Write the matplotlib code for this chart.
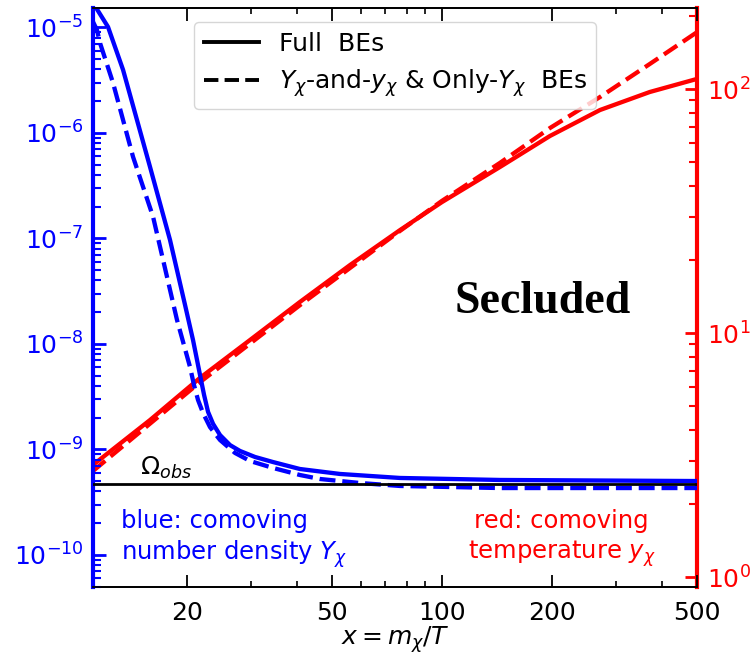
import numpy as np
import matplotlib
matplotlib.use('agg')
from matplotlib import pyplot as plt
from matplotlib.lines import Line2D
from matplotlib.ticker import FixedLocator, NullFormatter, LogLocator

# comoving number density Y_chi (left axis)
x_full_Y = [11.06, 12.16, 13.37, 15.85, 17.98, 19.77, 20.79, 21.73, 22.29, 22.86,
            23.59, 24.65, 26.26, 27.96, 30.74, 34.44, 40.8, 52.54, 76.7, 144.2, 500]
Y_full = [1.71e-5, 1.01e-5, 3.96e-6, 4.76e-7, 9.68e-8, 2.34e-8, 1.09e-8, 5.08e-9,
          3.29e-9, 2.27e-9, 1.75e-9, 1.37e-9, 1.10e-9, 9.68e-10, 8.49e-10,
          7.6e-10, 6.53e-10, 5.86e-10, 5.37e-10, 5.14e-10, 5.02e-10]

x_approx_Y = [11.06, 11.34, 11.56, 12.55, 14.24, 16.16, 18.79, 20.40, 20.92, 21.46,
              22.14, 23.14, 24.65, 27.10, 29.78, 34.44, 40.8, 46.33, 59.6, 76.7,
              144.2, 500]
Y_approx = [1.13e-5, 9.46e-6, 7.12e-6, 2.98e-6, 5.93e-7, 1.60e-7, 1.69e-8, 6.05e-9,
            4.08e-9, 2.94e-9, 2.22e-9, 1.63e-9, 1.23e-9, 9.27e-10, 7.78e-10,
            6.68e-10, 5.73e-10, 5.25e-10, 4.81e-10, 4.51e-10, 4.31e-10, 4.31e-10]

# comoving temperature y_chi (right axis)
x_full_y = [11.06, 15.85, 21.73, 29.78, 40.8, 56.0, 76.7, 100, 144.2, 197.7, 271, 371, 500]
y_full = [2.88, 4.40, 6.55, 9.36, 13.4, 19.0, 26.4, 34.4, 47.9, 64.2, 82.0, 97.2, 110]

x_approx_y = [11.06, 21.73, 40.8, 76.7, 100, 144.2, 197.7, 271, 371, 500]
y_approx = [2.72, 6.29, 13.0, 26.2, 34.8, 49.8, 69.2, 92.7, 126.6, 171]

omega_obs = 4.7e-10

x_major = [20, 50, 100, 200, 500]
x_minor = [30, 40, 60, 70, 80, 90, 300, 400]

fig = plt.figure(figsize=(7.56, 6.57), dpi=100)
ax = fig.add_axes([0.123, 0.1065, 0.799, 0.8815])
ax2 = ax.twinx()
ax.set_zorder(ax2.get_zorder() + 1)
ax.patch.set_visible(False)

ax.plot(x_full_Y, Y_full, color='blue', lw=3.1)
ax.plot(x_approx_Y, Y_approx, color='blue', lw=3.1, ls='--')
ax.axhline(omega_obs, color='black', lw=2, zorder=5)

ax2.plot(x_full_y, y_full, color='red', lw=3.1)
ax2.plot(x_approx_y, y_approx, color='red', lw=3.1, ls='--')

ax.set_xscale('log')
ax.set_yscale('log')
ax2.set_yscale('log')
ax.set_xlim(11.06, 500)
ax.set_ylim(4.97e-11, 1.53e-5)
ax2.set_ylim(0.91, 215)

ax.xaxis.set_major_locator(FixedLocator(x_major))
ax.xaxis.set_minor_locator(FixedLocator(x_minor))
ax.set_xticklabels([str(v) for v in x_major])
ax.xaxis.set_minor_formatter(NullFormatter())

for a in (ax, ax2):
    a.yaxis.set_major_locator(LogLocator(base=10, numticks=20))
    a.yaxis.set_minor_locator(LogLocator(base=10, subs=np.arange(2, 10), numticks=20))
    a.yaxis.set_minor_formatter(NullFormatter())

ax.tick_params(axis='x', which='both', direction='in', top=True, labelsize=18, pad=10)
ax.tick_params(axis='x', which='major', length=9, width=1.3)
ax.tick_params(axis='x', which='minor', length=4.5, width=1.2)
ax.tick_params(axis='y', which='both', direction='in', colors='blue', labelsize=18, pad=7)
ax.tick_params(axis='y', which='major', length=9, width=2)
ax.tick_params(axis='y', which='minor', length=5.5, width=1.5)
ax2.tick_params(axis='y', which='both', direction='in', colors='red', labelsize=18, pad=7)
ax2.tick_params(axis='y', which='major', length=9, width=2)
ax2.tick_params(axis='y', which='minor', length=5.5, width=1.5)

ax.spines['left'].set_color('blue')
ax.spines['left'].set_linewidth(3)
ax.spines['right'].set_visible(False)
ax2.spines['left'].set_visible(False)
ax2.spines['right'].set_color('red')
ax2.spines['right'].set_linewidth(3)
for a in (ax, ax2):
    a.spines['top'].set_linewidth(1.3)
    a.spines['bottom'].set_linewidth(1.3)

ax.set_xlabel(r'$x = m_\chi/T$', fontsize=18)
ax.xaxis.set_label_coords(0.5, -0.065)

handles = [Line2D([], [], color='black', lw=2.8),
           Line2D([], [], color='black', lw=2.8, ls='--')]
labels = ['Full  BEs', r'$Y_\chi$-and-$y_\chi$ & Only-$Y_\chi$  BEs']
ax.legend(handles, labels, loc='upper center', fontsize=18, handlelength=2.2,
          handletextpad=0.8, borderaxespad=0.55, labelspacing=0.45, borderpad=0.4)

ax.text(0.078, 0.183, r'$\Omega_{obs}$', transform=ax.transAxes, fontsize=18,
        va='bottom', ha='left')
ax.text(0.046, 0.135, 'blue: comoving\nnumber density $Y_\\chi$', transform=ax.transAxes,
        fontsize=17.5, color='blue', va='top', ha='left', linespacing=1.25)
ax.text(0.776, 0.135, 'red: comoving\ntemperature $y_\\chi$', transform=ax.transAxes,
        fontsize=17.5, color='red', va='top', ha='center', multialignment='center',
        linespacing=1.25)
ax.text(0.599, 0.492, 'Secluded', transform=ax.transAxes, fontsize=33,
        fontfamily='Liberation Serif', fontweight='bold', va='center', ha='left')

fig.savefig('out.png', dpi=100)
